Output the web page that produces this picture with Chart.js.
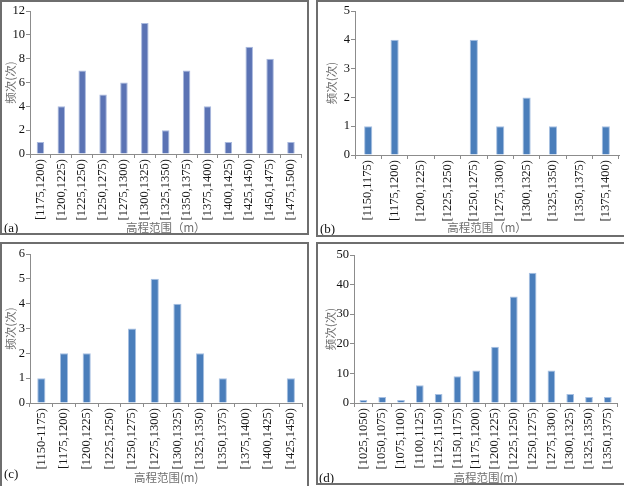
<!DOCTYPE html>
<html lang="zh">
<head>
    <meta charset="UTF-8">
    <title>高程范围频次</title>
    <script src="https://cdn.jsdelivr.net/npm/chart.js"></script>
    <style>
        body {
            margin: 0;
            width: 624px;
            height: 486px;
            overflow: hidden;
            background: #fff;
            position: relative;
        }
        .panel {
            position: absolute;
            box-sizing: border-box;
            border: 2px solid #6e6e6e;
            background: #fff;
            overflow: hidden;
        }
        .panel canvas {
            position: absolute;
            left: 0;
            top: 0;
        }
        .tag {
            position: absolute;
            font-family: "Liberation Serif", "Times New Roman", serif;
            font-size: 13px;
            color: #111;
            line-height: 13px;
        }
    </style>
</head>
<body>
    <div class="panel" style="left:0;top:0;width:309px;height:235px">
        <canvas id="chartA" width="305" height="231"></canvas>
        <div class="tag" style="left:2px;top:219px">(a)</div>
    </div>
    <div class="panel" style="left:316px;top:0;width:312px;height:237px">
        <canvas id="chartB" width="306" height="233"></canvas>
        <div class="tag" style="left:2px;top:220px">(b)</div>
    </div>
    <div class="panel" style="left:0;top:242px;width:309px;height:250px">
        <canvas id="chartC" width="305" height="242"></canvas>
        <div class="tag" style="left:2px;top:223px">(c)</div>
    </div>
    <div class="panel" style="left:316px;top:242px;width:312px;height:243px">
        <canvas id="chartD" width="306" height="239"></canvas>
        <div class="tag" style="left:1px;top:227px">(d)</div>
    </div>

    <script>
        // (a)
        const catsA = ['[1175,1200)', '[1200,1225)', '[1225,1250)', '[1250,1275)', '[1275,1300)', '[1300,1325)', '[1325,1350)',
                       '[1350,1375)', '[1375,1400)', '[1400,1425)', '[1425,1450)', '[1450,1475)', '[1475,1500)'];
        const valsA = [1, 4, 7, 5, 6, 11, 2, 7, 4, 1, 9, 8, 1];
        const ticksA = [0, 2, 4, 6, 8, 10, 12];

        // (b)
        const catsB = ['[1150,1175)', '[1175,1200)', '[1200,1225)', '[1225,1250)', '[1250,1275)',
                       '[1275,1300)', '[1300,1325)', '[1325,1350)', '[1350,1375)', '[1375,1400)'];
        const valsB = [1, 4, 0, 0, 4, 1, 2, 1, 0, 1];
        const ticksB = [0, 1, 2, 3, 4, 5];

        // (c)
        const catsC = ['[1150-1175)', '[1175,1200)', '[1200,1225)', '[1225,1250)', '[1250,1275)', '[1275,1300)',
                       '[1300,1325)', '[1325,1350)', '[1350,1375)', '[1375,1400)', '[1400,1425)', '[1425,1450)'];
        const valsC = [1, 2, 2, 0, 3, 5, 4, 2, 1, 0, 0, 1];
        const ticksC = [0, 1, 2, 3, 4, 5, 6];

        // (d)
        const catsD = ['[1025,1050)', '[1050,1075)', '[1075,1100)', '[1100,1125)', '[1125,1150)', '[1150,1175)', '[1175,1200)',
                       '[1200,1225)', '[1225,1250)', '[1250,1275)', '[1275,1300)', '[1300,1325)', '[1325,1350)', '[1350,1375)'];
        const valsD = [1, 2, 1, 6, 3, 9, 11, 19, 36, 44, 11, 3, 2, 2];
        const ticksD = [0, 10, 20, 30, 40, 50];

        const serif = '"Liberation Serif", "Times New Roman", serif';
        const cjk = '"Noto Sans CJK SC", "Noto Sans", sans-serif';
        const axisGrey = '#8c8c8c';

        function makeChart(id, cats, vals, tickList, o) {
            const ctx = document.getElementById(id).getContext('2d');
            return new Chart(ctx, {
                type: 'bar',
                data: {
                    labels: cats,
                    datasets: [{
                        data: vals,
                        backgroundColor: o.color,
                        borderColor: o.edge,
                        borderWidth: 1,
                        categoryPercentage: 1,
                        barPercentage: o.barPct
                    }]
                },
                options: {
                    responsive: false,
                    animation: false,
                    devicePixelRatio: 1,
                    layout: { padding: { top: o.padTop, right: o.padRight, left: 0, bottom: 0 } },
                    plugins: { legend: { display: false }, tooltip: { enabled: false } },
                    scales: {
                        x: {
                            offset: true,
                            grid: { offset: true, drawOnChartArea: false, drawTicks: true, tickLength: 4, color: axisGrey },
                            border: { display: true, color: axisGrey, width: 1 },
                            ticks: {
                                autoSkip: false, minRotation: 90, maxRotation: 90, padding: 1,
                                color: '#1a1a1a', font: { family: serif, size: 12.5 }
                            },
                            title: {
                                display: true, text: o.xTitle, color: '#6f6f6f',
                                font: { family: cjk, size: 11.5, lineHeight: 1 },
                                padding: { top: 0, bottom: o.xTitlePad }
                            },
                            afterFit: s => { s.height = o.xHeight; }
                        },
                        y: {
                            min: 0,
                            max: tickList[tickList.length - 1],
                            grid: { drawOnChartArea: false, drawTicks: true, tickLength: 4, color: axisGrey },
                            border: { display: true, color: axisGrey, width: 1 },
                            ticks: {
                                stepSize: o.step, padding: 1, color: '#111',
                                font: { family: serif, size: 12.5 },
                                callback: v => tickList.includes(v) ? v : ''
                            },
                            title: {
                                display: true, text: '频次(次)', color: '#6f6f6f',
                                font: { family: cjk, size: 11.5, lineHeight: 1 },
                                padding: { top: o.yTitlePad, bottom: 0 }
                            },
                            afterFit: s => { s.width = o.yWidth; }
                        }
                    }
                }
            });
        }

        makeChart('chartA', catsA, valsA, ticksA, {
            color: '#5b73b4', edge: '#a9b9de', barPct: 0.36, step: 2,
            padTop: 9, padRight: 1, yWidth: 28, xHeight: 79, yTitlePad: 2.5, xTitlePad: -0.5,
            xTitle: '高程范围（m）'
        });
        makeChart('chartB', catsB, valsB, ticksB, {
            color: '#4a7ebb', edge: '#a7c0e2', barPct: 0.31, step: 1,
            padTop: 9, padRight: 5, yWidth: 37, xHeight: 80, yTitlePad: 7.5, xTitlePad: 1.5,
            xTitle: '高程范围（m）'
        });
        makeChart('chartC', catsC, valsC, ticksC, {
            color: '#4a7ebb', edge: '#a7c0e2', barPct: 0.36, step: 1,
            padTop: 10, padRight: 4, yWidth: 28, xHeight: 83, yTitlePad: 2.5, xTitlePad: 2.5,
            xTitle: '高程范围(m)'
        });
        makeChart('chartD', catsD, valsD, ticksD, {
            color: '#4a7ebb', edge: '#a7c0e2', barPct: 0.41, step: 5,
            padTop: 11, padRight: 5, yWidth: 36, xHeight: 80, yTitlePad: 6.5, xTitlePad: -0.5,
            xTitle: '高程范围(m)'
        });
    </script>
</body>
</html>
